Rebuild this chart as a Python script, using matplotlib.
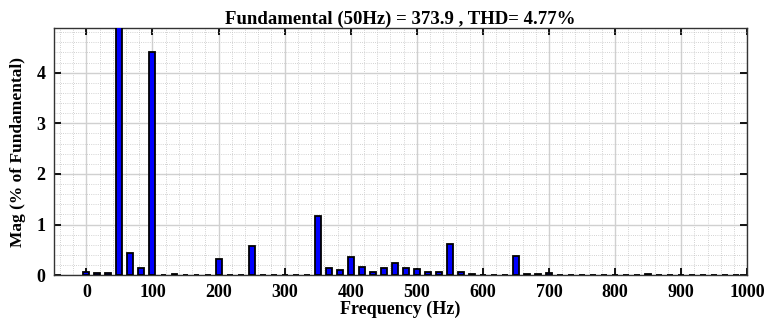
import numpy as np
import matplotlib.pyplot as plt
from matplotlib.ticker import MultipleLocator

# FFT harmonic magnitudes (% of fundamental), bins every 50/3 Hz starting at 0 Hz
bin_step_hz = 50 / 3
mag_pct = [
    0.07, 0.04, 0.05, 100.0, 0.44, 0.15, 4.41, 0.01, 0.03, 0.01,
    0.01, 0.01, 0.31, 0.01, 0.01, 0.57, 0.01, 0.01, 0.01, 0.01,
    0.01, 1.16, 0.14, 0.11, 0.36, 0.16, 0.06, 0.14, 0.24, 0.14,
    0.13, 0.06, 0.07, 0.61, 0.06, 0.03, 0.01, 0.01, 0.01, 0.38,
    0.03, 0.02, 0.05, 0.01, 0.01, 0.01, 0.01, 0.01, 0.01, 0.01,
    0.01, 0.03, 0.01, 0.01, 0.01, 0.01, 0.01, 0.01, 0.01, 0.01,
]
freqs = np.arange(len(mag_pct)) * bin_step_hz

fund_hz = 50
fund_mag = 373.9
thd_pct = 4.77

plt.rcParams['font.family'] = ['Liberation Serif', 'DejaVu Serif']
plt.rcParams['font.weight'] = 'bold'

fig = plt.figure(figsize=(7.66, 3.23), dpi=100)
ax = fig.add_axes([0.0705, 0.148, 0.905, 0.765])

ax.bar(freqs, mag_pct, width=9, color='#0000ff', edgecolor='black',
       linewidth=1.3, zorder=3)

ax.set_xlim(-49, 1000)
ax.set_ylim(0, 4.88)
ax.xaxis.set_major_locator(MultipleLocator(100))
ax.xaxis.set_minor_locator(MultipleLocator(20))
ax.yaxis.set_major_locator(MultipleLocator(1))
ax.yaxis.set_minor_locator(MultipleLocator(0.2))

ax.grid(which='major', color='#d0d0d0', linewidth=1.0, linestyle='-', zorder=0)
ax.grid(which='minor', color='#c4c4c4', linewidth=0.6, linestyle=(0, (1, 1.6)), zorder=0)

ax.tick_params(which='major', direction='in', length=5, width=1.3,
               top=True, right=True, labelsize=13, pad=6)
ax.tick_params(which='minor', length=0)
for lab in ax.get_xticklabels() + ax.get_yticklabels():
    lab.set_fontweight('bold')
for sp in ax.spines.values():
    sp.set_linewidth(1.0)
    sp.set_color('#333333')

ax.set_xlabel('Frequency (Hz)', fontsize=13, fontweight='bold', labelpad=0)
ax.set_ylabel('Mag (% of Fundamental)', fontsize=12.5, fontweight='bold', labelpad=8)
ax.set_title(f'Fundamental ({fund_hz}Hz) = {fund_mag} , THD= {thd_pct}%',
             fontsize=13.5, fontweight='bold', pad=3)

fig.savefig('out.png', dpi=100)
